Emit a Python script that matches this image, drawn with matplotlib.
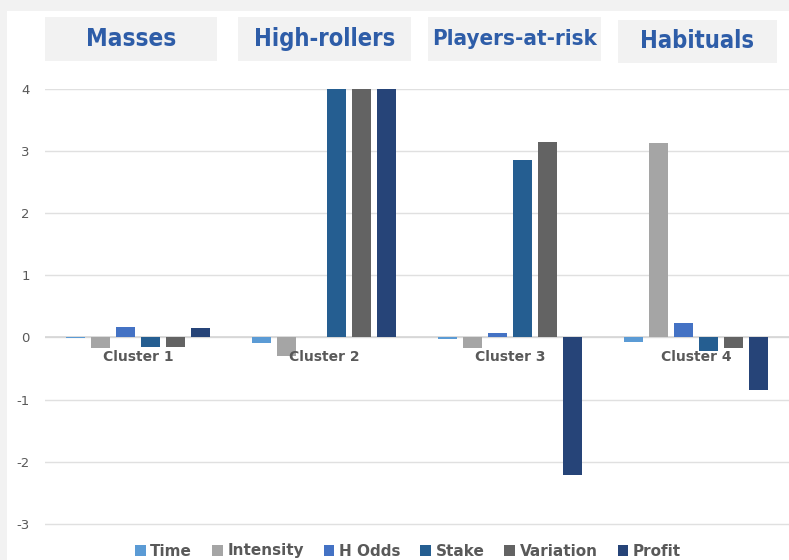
import matplotlib
matplotlib.use("Agg")
import matplotlib.pyplot as plt
from matplotlib.patches import Rectangle
import numpy as np

clusters = ["Cluster 1", "Cluster 2", "Cluster 3", "Cluster 4"]
segments = ["Masses", "High-rollers", "Players-at-risk", "Habituals"]
series_names = ["Time", "Intensity", "H Odds", "Stake", "Variation", "Profit"]
colors = ["#5b9bd5", "#a5a5a5", "#4472c4", "#255e91", "#636363", "#264478"]

time_vals = [-0.01, -0.09, -0.02, -0.08]
intensity_vals = [-0.17, -0.29, -0.17, 3.13]
hodds_vals = [0.17, 0.0, 0.08, 0.23]
stake_vals = [-0.16, 4.0, 2.85, -0.21]
variation_vals = [-0.16, 4.0, 3.15, -0.17]
profit_vals = [0.15, 4.0, -2.22, -0.85]
series_vals = [time_vals, intensity_vals, hodds_vals, stake_vals, variation_vals, profit_vals]

yticks = [-3, -2, -1, 0, 1, 2, 3, 4]

W, H = 789, 560
fig = plt.figure(figsize=(W / 100, H / 100), dpi=100)
fig.patch.set_facecolor("#f2f2f2")

# white panel behind the chart
fig.patches.append(Rectangle((7 / W, 0), 1 - 7 / W, 1 - 11 / H, transform=fig.transFigure,
                             facecolor="white", edgecolor="none", zorder=-10))

ax = fig.add_axes([45 / W, 1 - 540 / H, 1 - 45 / W, (540 - 89) / H])
ax.set_facecolor("none")
ax.set_zorder(1)

x = np.arange(len(clusters))
pitch = 0.134
width = 0.103
for i, (name, vals, c) in enumerate(zip(series_names, series_vals, colors)):
    ax.bar(x + (i - 2.5) * pitch, vals, width=width, color=c, label=name, zorder=3)

ax.set_xlim(-0.5, 3.5)
ax.set_ylim(-3.26, 4.0)
ax.set_yticks(yticks)
ax.set_yticklabels([str(v) for v in yticks], color="#595959", fontsize=9.5)
ax.tick_params(axis="y", length=0, pad=11)
ax.set_xticks([])
ax.grid(axis="y", color="#e0e0e0", linewidth=1.0, zorder=0)
for s in ax.spines.values():
    s.set_visible(False)
ax.axhline(0, color="#d6d6d6", linewidth=1.2, zorder=2)

for xi, lab in zip(x, clusters):
    ax.text(xi, -0.31, lab, ha="center", va="center", fontsize=10, fontweight="bold",
            color="#595959", zorder=4)

# segment header boxes
boxes = [(45, 217, 17, 61), (238, 411, 17, 61), (428, 601, 17, 61), (618, 777, 20, 63)]
sizes = [17.5, 17, 16, 17]
for (x0, x1, y0, y1), seg, fs in zip(boxes, segments, sizes):
    fig.patches.append(Rectangle((x0 / W, 1 - y1 / H), (x1 - x0) / W, (y1 - y0) / H,
                                 transform=fig.transFigure, facecolor="#f2f2f2",
                                 edgecolor="none", zorder=-5))
    fig.text((x0 + x1) / 2 / W, 1 - (y0 + y1) / 2 / H, seg, ha="center", va="center",
             fontsize=fs, fontweight="bold", fontstretch="condensed", color="#2e5da8",
             family="DejaVu Sans")

handles, labels = ax.get_legend_handles_labels()
leg = fig.legend(handles, labels, loc="center", bbox_to_anchor=(408 / W, 1 - 551 / H),
                 ncol=6, frameon=False, fontsize=11, handlelength=0.7, handleheight=0.7,
                 handletextpad=0.3, columnspacing=1.3, borderpad=0.1)
for t in leg.get_texts():
    t.set_color("#595959")
    t.set_fontweight("bold")

fig.savefig("out.png", dpi=100)
